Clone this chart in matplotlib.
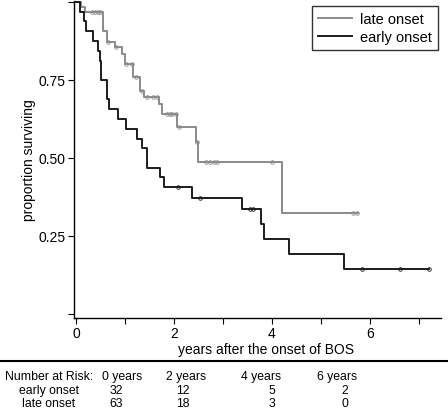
import numpy as np
import matplotlib
matplotlib.use("Agg")
import matplotlib.pyplot as plt
from matplotlib.lines import Line2D

plt.rcParams['font.family'] = ['Liberation Sans', 'DejaVu Sans']

# Kaplan-Meier steps
early_times = [0, 0.08, 0.17, 0.20, 0.35, 0.46, 0.49, 0.52, 0.63, 0.68, 0.86, 1.03,
               1.25, 1.35, 1.46, 1.71, 1.80, 2.36, 3.39, 3.78, 3.84, 4.35, 5.48]
early_surv = [1.0, 0.969, 0.938, 0.906, 0.875, 0.844, 0.812, 0.750, 0.688, 0.656, 0.625, 0.594,
              0.562, 0.531, 0.469, 0.438, 0.406, 0.372, 0.335, 0.287, 0.239, 0.191, 0.143]
early_censor = [2.09, 2.54, 3.55, 3.62, 5.84, 6.61, 7.20]
early_end = 7.20

late_times = [0, 0.10, 0.18, 0.56, 0.64, 0.80, 0.93, 1.00, 1.17, 1.30, 1.39, 1.70, 1.75,
              2.06, 2.45, 2.50, 4.20]
late_surv = [1.0, 0.984, 0.968, 0.906, 0.871, 0.855, 0.833, 0.801, 0.759, 0.716, 0.695, 0.672, 0.641,
             0.598, 0.551, 0.486, 0.323]
late_censor = [0.32, 0.39, 0.46, 0.50, 0.66, 0.82, 1.03, 1.14, 1.22, 1.34, 1.44, 1.58, 1.66,
               1.86, 1.92, 1.96, 2.05, 2.10, 2.48, 2.65, 2.73, 2.82, 2.88, 4.01, 5.65, 5.73]
late_end = 5.76

# number at risk table
risk_header = ['0 years', '2 years', '4 years', '6 years']
risk_early = [32, 12, 5, 2]
risk_late = [63, 18, 3, 0]

gray = '#8a8a8a'
black = '#1c1c1c'


def km_curve(ax, times, surv, censor, end, color, label):
    t = np.append(times, end)
    s = np.append(surv, surv[-1])
    ax.step(t, s, where='post', color=color, lw=1.4, label=label, zorder=3)
    idx = np.searchsorted(times, censor, side='right') - 1
    cs = np.array(surv)[idx]
    ax.plot(censor, cs, 'o', ms=2.6, mfc='none', mec=color, mew=0.6, zorder=4)


fig = plt.figure(figsize=(4.48, 4.10), dpi=100)
ax = fig.add_axes([74 / 448, 91 / 410, (441 - 74) / 448, (408 - 91) / 410])

km_curve(ax, late_times, late_surv, late_censor, late_end, gray, 'late onset')
km_curve(ax, early_times, early_surv, early_censor, early_end, black, 'early onset')

ax.set_xlim(-0.04, 7.45)
ax.set_ylim(-0.013, 1.003)
for side in ['top', 'right']:
    ax.spines[side].set_visible(False)
for side in ['left', 'bottom']:
    ax.spines[side].set_linewidth(1.0)
    ax.spines[side].set_color('black')

ax.set_xticks([0, 2, 4, 6])
ax.set_xticks([1, 3, 5, 7], minor=True)
ax.set_yticks([0, 0.25, 0.5, 0.75, 1.0])
ax.set_yticklabels(['', '0.25', '0.50', '0.75', ''])
ax.tick_params(axis='both', which='both', direction='out', length=4, width=0.8,
               labelsize=10, pad=2)
ax.set_xlabel('years after the onset of BOS', fontsize=10)
ax.xaxis.set_label_coords((266 - 74) / 367, -0.075)
ax.set_ylabel('proportion surviving', fontsize=10, labelpad=2)

leg = ax.legend(loc='upper right', bbox_to_anchor=(438 / 448, 1 - 7 / 410),
                bbox_transform=fig.transFigure, fontsize=10.5, frameon=True,
                fancybox=False, edgecolor='black', handlelength=2.3,
                handletextpad=0.6, labelspacing=0.3, borderpad=0.4, borderaxespad=0)
leg.get_frame().set_linewidth(1.0)

# separator line and number at risk table
fig.add_artist(Line2D([0, 1], [1 - 362 / 410] * 2, transform=fig.transFigure,
                      color='black', lw=1.5))

fs = 8.8
col_head = [122, 186, 261, 337]
col_num = [116, 183, 272, 345]
fig.text(49 / 448, 1 - 377 / 410, 'Number at Risk:', ha='center', va='center', fontsize=fs)
fig.text(49 / 448, 1 - 391 / 410, 'early onset', ha='center', va='center', fontsize=fs)
fig.text(49 / 448, 1 - 404 / 410, 'late onset', ha='center', va='center', fontsize=fs)
for i in range(len(risk_header)):
    fig.text(col_head[i] / 448, 1 - 377 / 410, risk_header[i], ha='center', va='center', fontsize=fs)
    fig.text(col_num[i] / 448, 1 - 391 / 410, str(risk_early[i]), ha='center', va='center', fontsize=fs)
    fig.text(col_num[i] / 448, 1 - 404 / 410, str(risk_late[i]), ha='center', va='center', fontsize=fs)

fig.savefig('out.png', dpi=100)
